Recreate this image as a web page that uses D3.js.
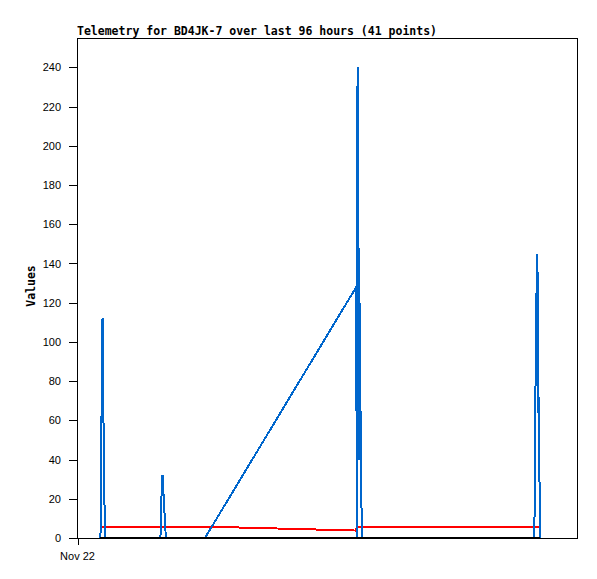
<!DOCTYPE html>
<html>
<head>
<meta charset="utf-8">
<script src="https://cdnjs.cloudflare.com/ajax/libs/d3/7.8.5/d3.min.js"></script>
<style>
  body { margin: 0; background: #fff; }
  svg { display: block; }
  .tick text { font-family: "Liberation Sans", Arial, sans-serif; font-size: 11px; fill: #000; }
  .tick line { stroke: #000; }
  .title, .ylabel { font-family: "DejaVu Sans Mono", monospace; font-weight: bold; font-size: 11.5px; fill: #000; }
</style>
</head>
<body>
<script>
// hours after Nov 22 00:00 for each of the 41 telemetry points
var hours = [4.51, 4.61, 4.70, 4.90, 4.99, 5.09, 5.28, 5.38,
  8.26, 11.14, 13.63,
  16.03, 16.13, 16.26, 16.42, 16.55, 16.74, 16.93, 17.05,
  19.78, 22.08,
  24.58,
  53.63, 53.72, 53.88, 54.03, 54.13, 54.26, 54.45, 54.61, 54.72,
  65.86, 77.38,
  87.80, 87.90, 88.03, 88.19, 88.40, 88.57, 88.74, 88.86]

var blueValues = [0, 20, 60, 112, 96, 60, 20, 0,
  0, 0, 0,
  0, 8, 24, 32, 26, 16, 8, 0,
  0, 0,
  0,
  128, 0, 240, 200, 40, 120, 60, 20, 0,
  0, 0,
  0, 24, 72, 120, 145, 64, 72, 0]

var redValues = [5.8, 5.8, 5.8, 5.8, 5.8, 5.8, 5.8, 5.8,
  5.8, 5.8, 5.8,
  5.8, 5.8, 5.8, 5.8, 5.8, 5.8, 5.8, 5.8,
  5.8, 5.8,
  5.8,
  3.8, 5.8, 5.8, 5.8, 5.8, 5.8, 5.8, 5.8, 5.8,
  5.8, 5.8,
  5.8, 5.8, 5.8, 5.8, 5.8, 5.8, 5.8, 5.8]

var blackValues = hours.map(function() { return 0 })

var yTicks = [0, 20, 40, 60, 80, 100, 120, 140, 160, 180, 200, 220, 240]

var start = new Date(2023, 10, 22, 0, 0, 0)
var spanHours = 96

var margin = {top: 38, right: 20, bottom: 41, left: 77},
  width = 597 - margin.left - margin.right,
  height = 579 - margin.top - margin.bottom

var svg = d3.select("body").append("svg")
  .attr("width", 597)
  .attr("height", 579)

svg.append("text")
  .attr("class", "title")
  .attr("x", 77)
  .attr("y", 35)
  .text("Telemetry for BD4JK-7 over last 96 hours (41 points)")

var g = svg.append("g")
  .attr("transform", "translate(" + margin.left + "," + margin.top + ")")

var xScale = d3.scaleTime()
  .domain([start, d3.timeHour.offset(start, spanHours)])
  .range([0, width])
var yScale = d3.scaleLinear().domain([0, 255]).range([height, 0])

// frame
g.append("rect")
  .attr("x", 0.5).attr("y", 0.5)
  .attr("width", width).attr("height", height)
  .attr("fill", "none").attr("stroke", "#000").attr("stroke-width", 1)
  .attr("shape-rendering", "crispEdges")

var yAxis = g.append("g")
  .call(d3.axisLeft(yScale).tickValues(yTicks).tickSize(8).tickPadding(8).tickFormat(d3.format("d")))
yAxis.select(".domain").remove()
yAxis.selectAll("line").attr("shape-rendering", "crispEdges")

var xAxis = g.append("g")
  .attr("transform", "translate(0," + height + ")")
  .call(d3.axisBottom(xScale).tickValues([start]).tickSize(7).tickPadding(7).tickFormat(d3.timeFormat("%b %d")))
xAxis.select(".domain").remove()
xAxis.selectAll("line").attr("shape-rendering", "crispEdges").attr("transform", "translate(0.5,0)")

svg.append("text")
  .attr("class", "ylabel")
  .attr("transform", "translate(35,286) rotate(-90)")
  .attr("text-anchor", "middle")
  .text("Values")

function series(values) {
  return hours.map(function(h, i) {
    return {date: d3.timeMinute.offset(start, Math.round(h * 60 * 10) / 10), value: values[i]}
  })
}

var lineGenerator = d3.line()
  .x(function(d) { return xScale(d.date) })
  .y(function(d) { return yScale(d.value) })

var lines = [
  {values: redValues, color: "#ff0000"},
  {values: blueValues, color: "#0066cc"},
  {values: blackValues, color: "#000000"}
]

lines.forEach(function(s) {
  g.append("path")
    .datum(series(s.values))
    .attr("fill", "none")
    .attr("stroke", s.color)
    .attr("stroke-width", 2)
    .attr("shape-rendering", "crispEdges")
    .attr("d", lineGenerator)
})
</script>
</body>
</html>
